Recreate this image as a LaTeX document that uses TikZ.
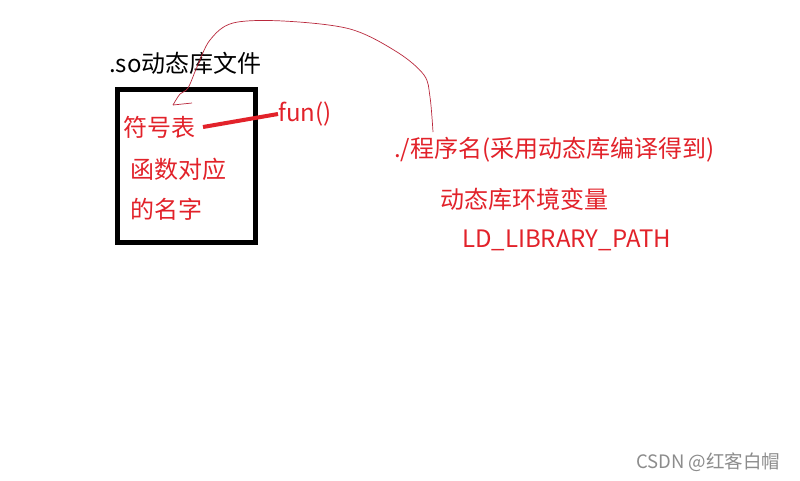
\documentclass[tikz,border=0pt]{standalone}
\usepackage{fontspec}
\setmainfont{Noto Sans CJK SC}
\begin{document}
\begin{tikzpicture}[x=1pt,y=-1pt,
  redtxt/.style={text=myred,font=\fontsize{24}{26}\selectfont,inner sep=0pt,anchor=west},
  blacktxt/.style={text=black,font=\fontsize{24}{26}\selectfont,inner sep=0pt,anchor=west},
  wmark/.style={text=black!45,font=\fontsize{18.5}{20}\selectfont,inner sep=0pt,anchor=west},
  frame/.style={draw=black,line width=5pt},
  link/.style={draw=myred,line width=4pt},
  curve/.style={draw=curvered,line width=0.7pt}
]
\definecolor{myred}{RGB}{226,34,42}
\definecolor{curvered}{RGB}{185,40,60}
\useasboundingbox[fill=white] (0,0) rectangle (800,480);
\node[blacktxt] (title) at (109,63) {.so动态库文件};
\node[frame,minimum width=138pt,minimum height=153pt,inner sep=0pt] (box) at (186.5,165.5) {};
\node[redtxt] (sym) at (123,127) {符号表};
\node[redtxt] (fun) at (278,114) {fun()};
\node[redtxt] (fn1) at (130,169) {函数对应};
\node[redtxt] (fn2) at (130,209) {的名字};
\node[redtxt] (prog) at (394,150) {./程序名(采用动态库编译得到)};
\node[redtxt] (env) at (440,199) {动态库环境变量};
\node[redtxt] (ld) at (462,240) {LD\_LIBRARY\_PATH};
\node[wmark] (wm) at (636,462) {CSDN @红客白帽};
\coordinate (ls) at (203,127);
\draw[link] (ls) -- (fun.west);
\coordinate (cs) at (433,132);
\coordinate (ce) at (173,105);
\draw[curve] plot[smooth,tension=0.55] coordinates {(cs) (430,97) (424,75) (397,52) (350,29) (283,21) (233,23) (210,40) (197,67) (188,88) (180,94) (ce)};
\draw[curve] (ce) -- (192,103);
\end{tikzpicture}
\end{document}
